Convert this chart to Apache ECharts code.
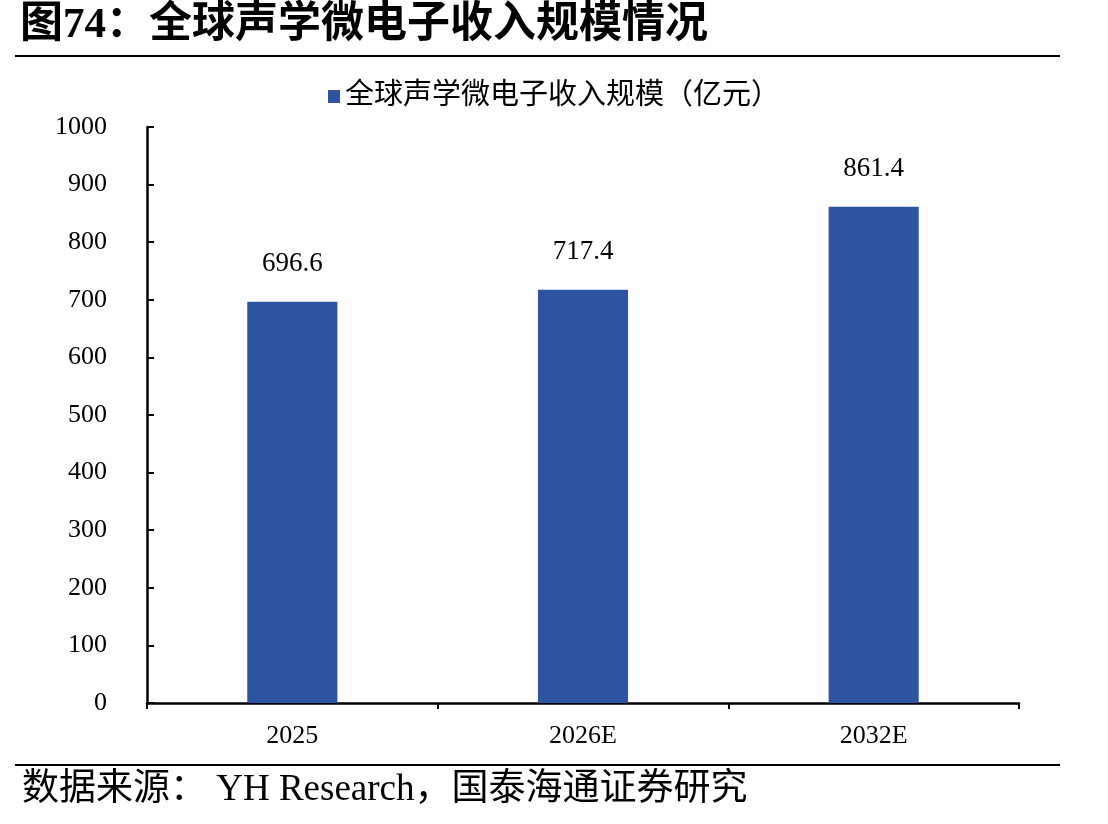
<!DOCTYPE html>
<html>
<head>
<meta charset="utf-8">
<script src="https://cdn.jsdelivr.net/npm/echarts@6/dist/echarts.min.js"></script>
<style>html,body{margin:0;padding:0;background:#fff}#c{width:1108px;height:824px}</style>
</head>
<body>
<div id="c"></div>
<script>
const categories = ['2025', '2026E', '2032E'];
const revenue = [696.6, 717.4, 861.4];
const seriesName = '全球声学微电子收入规模（亿元）';
const titleText = '图74：全球声学微电子收入规模情况';
const sourceText = '数据来源： YH Research，国泰海通证券研究';

const serif = '"Liberation Serif", "Noto Sans CJK SC", serif';
const chart = echarts.init(document.getElementById('c'));
chart.setOption({
  backgroundColor: '#fff',
  animation: false,
  graphic: [
    { type: 'text', left: 20, top: 4, style: { text: titleText, font: 'bold 43px "Liberation Serif", "Noto Sans CJK SC", serif', fill: '#000' } },
    { type: 'line', shape: { x1: 15, y1: 56, x2: 1060, y2: 56 }, style: { stroke: '#000', lineWidth: 2 } },
    { type: 'line', shape: { x1: 15, y1: 765, x2: 1060, y2: 765 }, style: { stroke: '#000', lineWidth: 2 } },
    { type: 'text', left: 22, top: 772, style: { text: sourceText, font: '37px "Liberation Serif", "Noto Sans CJK SC", serif', fill: '#000' } }
  ],
  legend: {
    top: 77, left: 'center',
    icon: 'rect',
    itemWidth: 12, itemHeight: 13, itemGap: 7,
    textStyle: { fontFamily: serif, fontSize: 29, color: '#000' },
    data: [seriesName]
  },
  grid: { left: 147, right: 89, top: 127, bottom: 121 },
  xAxis: {
    type: 'category', data: categories,
    axisLine: { lineStyle: { color: '#000', width: 2.5 } },
    axisTick: { show: true, length: 6, lineStyle: { color: '#000', width: 2 } },
    axisLabel: { fontFamily: serif, fontSize: 26, color: '#000', margin: 20 }
  },
  yAxis: {
    type: 'value', min: 0, max: 1000, interval: 100,
    splitLine: { show: false },
    axisLine: { show: true, lineStyle: { color: '#000', width: 2.5 } },
    axisTick: { show: true, inside: true, length: 7, lineStyle: { color: '#000', width: 2 } },
    axisLabel: { fontFamily: serif, fontSize: 26, color: '#000', margin: 40, formatter: v => String(v) }
  },
  series: [{
    name: seriesName, type: 'bar', data: revenue,
    barWidth: '31%',
    itemStyle: { color: '#2E53A0' },
    label: { show: true, position: 'top', distance: 24, fontFamily: serif, fontSize: 27, color: '#000' }
  }]
});
</script>
</body>
</html>
